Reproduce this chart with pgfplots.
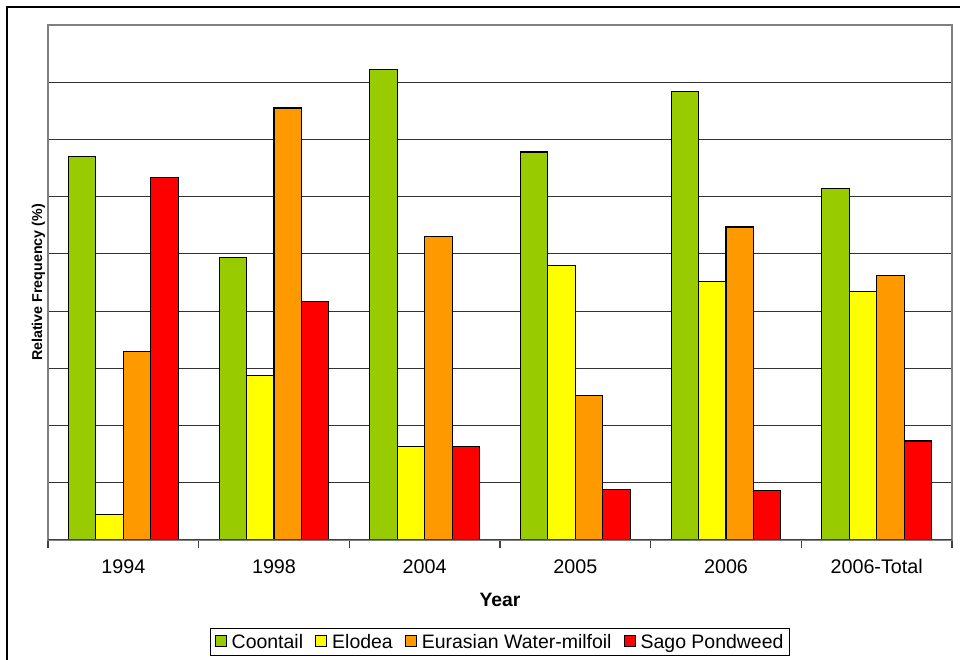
\documentclass[border=0pt]{standalone}
\usepackage{pgfplots}
\pgfplotsset{compat=1.18}
\usepackage{fontspec}
\setmainfont{Liberation Sans}

\definecolor{coontail}{HTML}{99CC00}
\definecolor{elodea}{HTML}{FFFF00}
\definecolor{milfoil}{HTML}{FF9900}
\definecolor{sago}{HTML}{FF0000}

\begin{document}
\begin{tikzpicture}
\begin{axis}[
  scale only axis,
  width=678pt, height=386.25pt,
  ybar=0pt, bar width=20.6pt,
  xmin=-0.5, xmax=5.5, ymin=0, ymax=90,
  xtick={-0.5,0.5,...,5.5},
  x tick label as interval,
  xticklabels={1994,1998,2004,2005,2006,2006-Total},
  xtick pos=bottom,
  xtick align=outside,
  major tick length=6pt,
  x tick style={black!75, line width=0.8pt},
  xticklabel style={font=\fontsize{14.8}{16}\selectfont, yshift=-5pt},
  ytick={0,10,...,90}, yticklabels={},
  y tick style={draw=none},
  ymajorgrids,
  grid style={black!80, line width=0.6pt},
  axis line style={gray, line width=0.8pt},
  xlabel={\textbf{Year}},
  xlabel style={font=\fontsize{14.5}{16}\selectfont, at={(axis description cs:0.5,0)}, anchor=center, yshift=-45pt},
  ylabel={\textbf{Relative Frequency (\%)}},
  ylabel style={font=\fontsize{10.7}{12}\selectfont, at={(axis description cs:0.002,0.5)}, anchor=south},
  legend columns=4,
  legend style={at={(axis description cs:0.5,0)}, anchor=center, yshift=-76.5pt,
    draw=black, line width=0.6pt, font=\fontsize{14.6}{16}\selectfont,
    inner xsep=3.5pt, inner ysep=1.5pt,
    nodes={inner xsep=1.2pt, inner ysep=2.5pt},
    /tikz/every odd column/.append style={column sep=2.5pt},
    /tikz/every even column/.append style={column sep=8pt}},
  legend image code/.code={\draw[#1, draw=black, line width=0.6pt] (0pt,-3.6pt) rectangle (8.3pt,4.7pt);},
  every axis plot/.append style={draw=black, line width=0.8pt},
]
\addplot[fill=coontail] coordinates {(0,67.0) (1,49.3) (2,82.2) (3,67.8) (4,78.3) (5,61.5)};
\addplot[fill=elodea] coordinates {(0,4.4) (1,28.7) (2,16.4) (3,47.9) (4,45.1) (5,43.4)};
\addplot[fill=milfoil] coordinates {(0,33.0) (1,75.5) (2,53.1) (3,25.3) (4,54.7) (5,46.2)};
\addplot[fill=sago] coordinates {(0,63.3) (1,41.6) (2,16.4) (3,8.9) (4,8.7) (5,17.3)};
\legend{Coontail, Elodea, Eurasian Water-milfoil, Sago Pondweed}
\draw[black!75, line width=1.4pt] (rel axis cs:0,0) -- (rel axis cs:1,0);
\coordinate (sw) at (rel axis cs:0,0);
\coordinate (ne) at (rel axis cs:1,1);
\end{axis}
\path[use as bounding box] ([xshift=-36pt, yshift=-90pt]sw) rectangle ([xshift=6pt, yshift=18.75pt]ne);
% outer frame, left and top edges
\draw[line width=1.6pt] ([xshift=-30.75pt, yshift=-100pt]sw) |- ([xshift=10pt, yshift=13.5pt]ne);
\end{tikzpicture}
\end{document}
